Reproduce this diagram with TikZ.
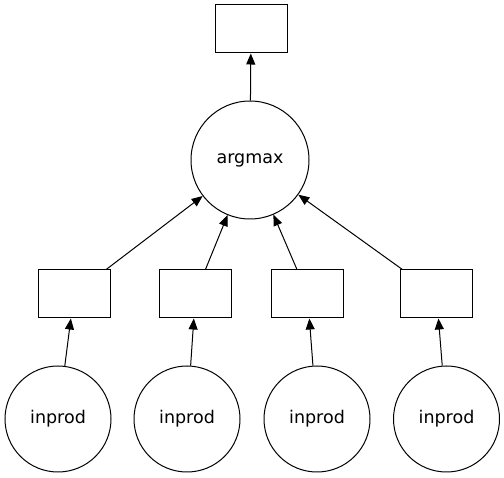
\documentclass[tikz,border=0pt]{standalone}
\usepackage{fontspec}
\setmainfont{DejaVu Sans}
\usetikzlibrary{arrows.meta, positioning}

\begin{document}
\begin{tikzpicture}[x=1pt, y=-1pt, line width=1pt]
\tikzstyle{box} = [rectangle, draw, minimum width=72pt, minimum height=48pt, inner sep=0pt]
\tikzstyle{op} = [circle, draw, minimum size=106pt, inner sep=0pt, font=\fontsize{17.5}{20}\selectfont]
\tikzstyle{line} = [draw, -{Triangle[length=11pt, width=9pt]}]

\useasboundingbox (0,0) rectangle (504,478);

\node [box] (out) at (251,29) {};
\node [op, minimum size=118pt] (argmax) at (250,160) {argmax};

\node [box] (in1) at (74,294) {};
\node [box] (in2) at (195.5,294) {};
\node [box] (in3) at (307.5,294) {};
\node [box] (in4) at (436.5,294) {};

\node [op] (prod1) at (58,419) {inprod};
\node [op] (prod2) at (187,419) {inprod};
\node [op] (prod3) at (317,419) {inprod};
\node [op] (prod4) at (446.5,419) {inprod};

\draw [line] (argmax) -- (out);
\draw [line] (in1) -- (argmax);
\draw [line] (in2) -- (argmax);
\draw [line] (in3) -- (argmax);
\draw [line] (in4) -- (argmax);
\draw [line] (prod1) -- (in1);
\draw [line] (prod2) -- (in2);
\draw [line] (prod3) -- (in3);
\draw [line] (prod4) -- (in4);

\end{tikzpicture}
\end{document}
